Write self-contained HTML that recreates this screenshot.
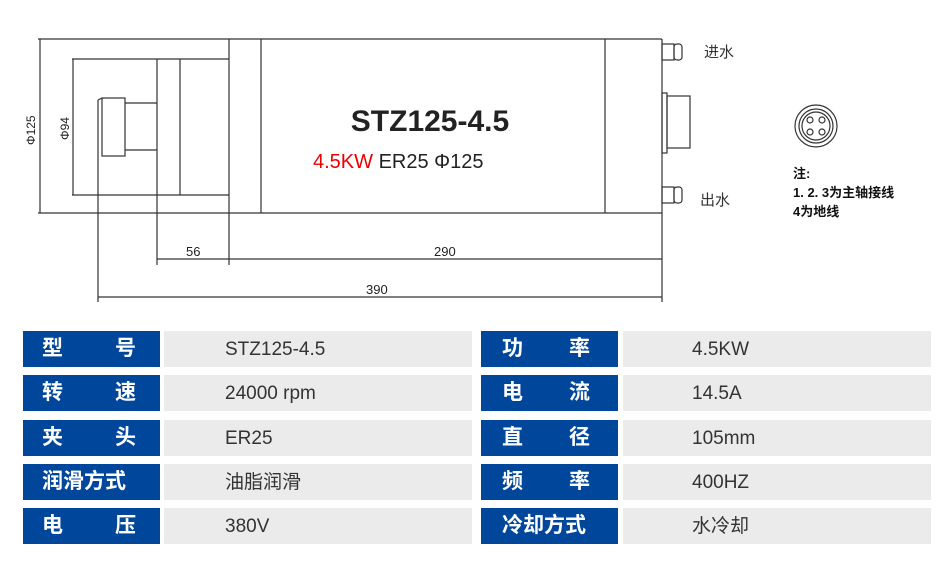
<!DOCTYPE html>
<html><head><meta charset="utf-8"><style>
body{margin:0;width:946px;height:570px;background:#fff;position:relative;overflow:hidden;font-family:"Liberation Sans","Noto Sans CJK SC",sans-serif}
.b{position:absolute;background:#00479b;color:#fff;font-weight:bold;font-size:21px;height:36px;line-height:36px}
.g{position:absolute;background:#ebebeb;color:#333;font-size:19px;height:36px;line-height:38px}
.b span{position:absolute;top:0}
</style></head><body>
<svg width="946" height="320" style="position:absolute;left:0;top:0" font-family="Liberation Sans, Noto Sans CJK SC, sans-serif">
<g stroke="#333" stroke-width="1.2" fill="none">
<line x1="38" y1="39" x2="662" y2="39"/><line x1="38" y1="213" x2="662" y2="213"/>
<line x1="40" y1="39" x2="40" y2="213"/>
<line x1="72" y1="59" x2="229" y2="59"/><line x1="72" y1="195" x2="229" y2="195"/>
<line x1="73" y1="59" x2="73" y2="195"/>
<line x1="157" y1="59" x2="157" y2="213"/><line x1="180" y1="59" x2="180" y2="195"/>
<line x1="229" y1="39" x2="229" y2="265"/><line x1="261" y1="39" x2="261" y2="213"/>
<line x1="605" y1="39" x2="605" y2="213"/><line x1="662" y1="39" x2="662" y2="302"/>
<rect x="102" y="98" width="23" height="58"/><line x1="98" y1="100" x2="98" y2="302"/>
<line x1="98" y1="100" x2="102" y2="98"/>
<line x1="125" y1="103" x2="157" y2="103"/><line x1="125" y1="150" x2="157" y2="150"/>
<line x1="157" y1="213" x2="157" y2="265"/>
<line x1="157" y1="259" x2="662" y2="259"/>
<line x1="98" y1="297" x2="662" y2="297"/>
<rect x="662" y="93" width="5" height="60"/><rect x="667" y="96" width="23" height="52"/>
<rect x="662" y="44" width="12" height="16"/><rect x="674" y="44" width="8" height="16" rx="3"/>
<rect x="662" y="187" width="12" height="16"/><rect x="674" y="187" width="8" height="16" rx="3"/>
<circle cx="816" cy="126" r="21"/><circle cx="816" cy="126" r="17"/><circle cx="816" cy="126" r="14"/>
<circle cx="810" cy="120" r="3"/><circle cx="822" cy="120" r="3"/><circle cx="810" cy="132" r="3"/><circle cx="822" cy="132" r="3"/>
</g>
<text x="0" y="0" font-size="12" fill="#222" transform="translate(35,145) rotate(-90)">Φ125</text>
<text x="0" y="0" font-size="12" fill="#222" transform="translate(69,140) rotate(-90)">Φ94</text>
<text x="186" y="256" font-size="13" fill="#222">56</text>
<text x="434" y="256" font-size="13" fill="#222">290</text>
<text x="366" y="294" font-size="13" fill="#222">390</text>
<text x="430" y="131" font-size="30" font-weight="bold" fill="#222" text-anchor="middle">STZ125-4.5</text>
<text x="313" y="168" font-size="20" fill="#e00">4.5KW <tspan fill="#222">ER25 Φ125</tspan></text>
<text x="704" y="57" font-size="15" fill="#333">进水</text>
<text x="700" y="205" font-size="15" fill="#333">出水</text>
<text x="793" y="178" font-size="13" font-weight="bold" fill="#111">注:</text>
<text x="793" y="197" font-size="13" font-weight="bold" fill="#111">1. 2. 3为主轴接线</text>
<text x="793" y="216" font-size="13" font-weight="bold" fill="#111">4为地线</text>
</svg>
<div class="b" style="left:23px;top:331px;width:137px"><span style="left:19px">型</span><span style="left:92px">号</span></div>
<div class="g" style="left:164px;top:331px;width:308px;padding-left:61px;box-sizing:border-box">STZ125-4.5</div>
<div class="b" style="left:23px;top:375px;width:137px"><span style="left:19px">转</span><span style="left:92px">速</span></div>
<div class="g" style="left:164px;top:375px;width:308px;padding-left:61px;box-sizing:border-box">24000 rpm</div>
<div class="b" style="left:23px;top:420px;width:137px"><span style="left:19px">夹</span><span style="left:92px">头</span></div>
<div class="g" style="left:164px;top:420px;width:308px;padding-left:61px;box-sizing:border-box">ER25</div>
<div class="b" style="left:23px;top:464px;width:137px"><span style="left:19px">润滑方式</span></div>
<div class="g" style="left:164px;top:464px;width:308px;padding-left:61px;box-sizing:border-box">油脂润滑</div>
<div class="b" style="left:23px;top:508px;width:137px"><span style="left:19px">电</span><span style="left:92px">压</span></div>
<div class="g" style="left:164px;top:508px;width:308px;padding-left:61px;box-sizing:border-box">380V</div>

<div class="b" style="left:481px;top:331px;width:137px"><span style="left:21px">功</span><span style="left:88px">率</span></div>
<div class="g" style="left:623px;top:331px;width:308px;padding-left:69px;box-sizing:border-box">4.5KW</div>
<div class="b" style="left:481px;top:375px;width:137px"><span style="left:21px">电</span><span style="left:88px">流</span></div>
<div class="g" style="left:623px;top:375px;width:308px;padding-left:69px;box-sizing:border-box">14.5A</div>
<div class="b" style="left:481px;top:420px;width:137px"><span style="left:21px">直</span><span style="left:88px">径</span></div>
<div class="g" style="left:623px;top:420px;width:308px;padding-left:69px;box-sizing:border-box">105mm</div>
<div class="b" style="left:481px;top:464px;width:137px"><span style="left:21px">频</span><span style="left:88px">率</span></div>
<div class="g" style="left:623px;top:464px;width:308px;padding-left:69px;box-sizing:border-box">400HZ</div>
<div class="b" style="left:481px;top:508px;width:137px"><span style="left:21px">冷却方式</span></div>
<div class="g" style="left:623px;top:508px;width:308px;padding-left:69px;box-sizing:border-box">水冷却</div>
</body></html>
